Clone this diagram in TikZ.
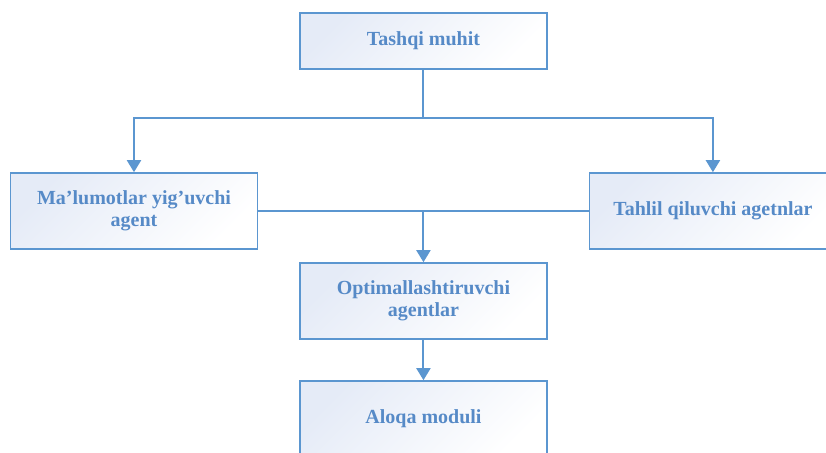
\documentclass[tikz,border=0pt]{standalone}
\usepackage{fontspec}
\setmainfont{Liberation Serif}
\usepackage{tikz}
\usetikzlibrary{arrows.meta}
\definecolor{boxline}{RGB}{91,150,208}
\definecolor{boxtext}{RGB}{86,138,199}
\definecolor{boxfill}{RGB}{229,235,247}
\tikzstyle{block} = [rectangle, minimum width=185pt, minimum height=57pt, text centered, align=center, draw=boxline, line width=1.2pt, top color=boxfill, bottom color=white, shading angle=45, text=boxtext, font=\bfseries\fontsize{15}{16.5}\selectfont]
\tikzstyle{line} = [draw=boxline, line width=1.5pt]
\tikzstyle{arrow} = [line, -{Triangle[width=10.5pt,length=9pt]}]
\begin{document}
\begin{tikzpicture}[node distance=88.5pt]
\clip (-317.6pt,30.75pt) rectangle (301.9pt,-309pt);
\node (tashqi) [block, minimum height=42pt] {Tashqi muhit};
\node (malumot) [block, below of=tashqi, xshift=-217.1pt, yshift=-39pt] {Ma’lumotlar yig’uvchi\\agent};
\node (tahlil) [block, below of=tashqi, xshift=217.1pt, yshift=-39pt] {Tahlil qiluvchi agetnlar};
\node (optim) [block, below of=tashqi, yshift=-106.5pt] {Optimallashtiruvchi\\agentlar};
\node (aloqa) [block, below of=optim] {Aloqa moduli};
\draw [line] (tashqi.south) -- ++(0,-36pt) coordinate (bus);
\draw [arrow] (bus) -| (malumot.north);
\draw [arrow] (bus) -| (tahlil.north);
\draw [line] (malumot.east) -- (tahlil.west);
\draw [arrow] (optim.north |- malumot.east) -- (optim.north);
\draw [arrow] (optim) -- (aloqa);
\end{tikzpicture}
\end{document}
